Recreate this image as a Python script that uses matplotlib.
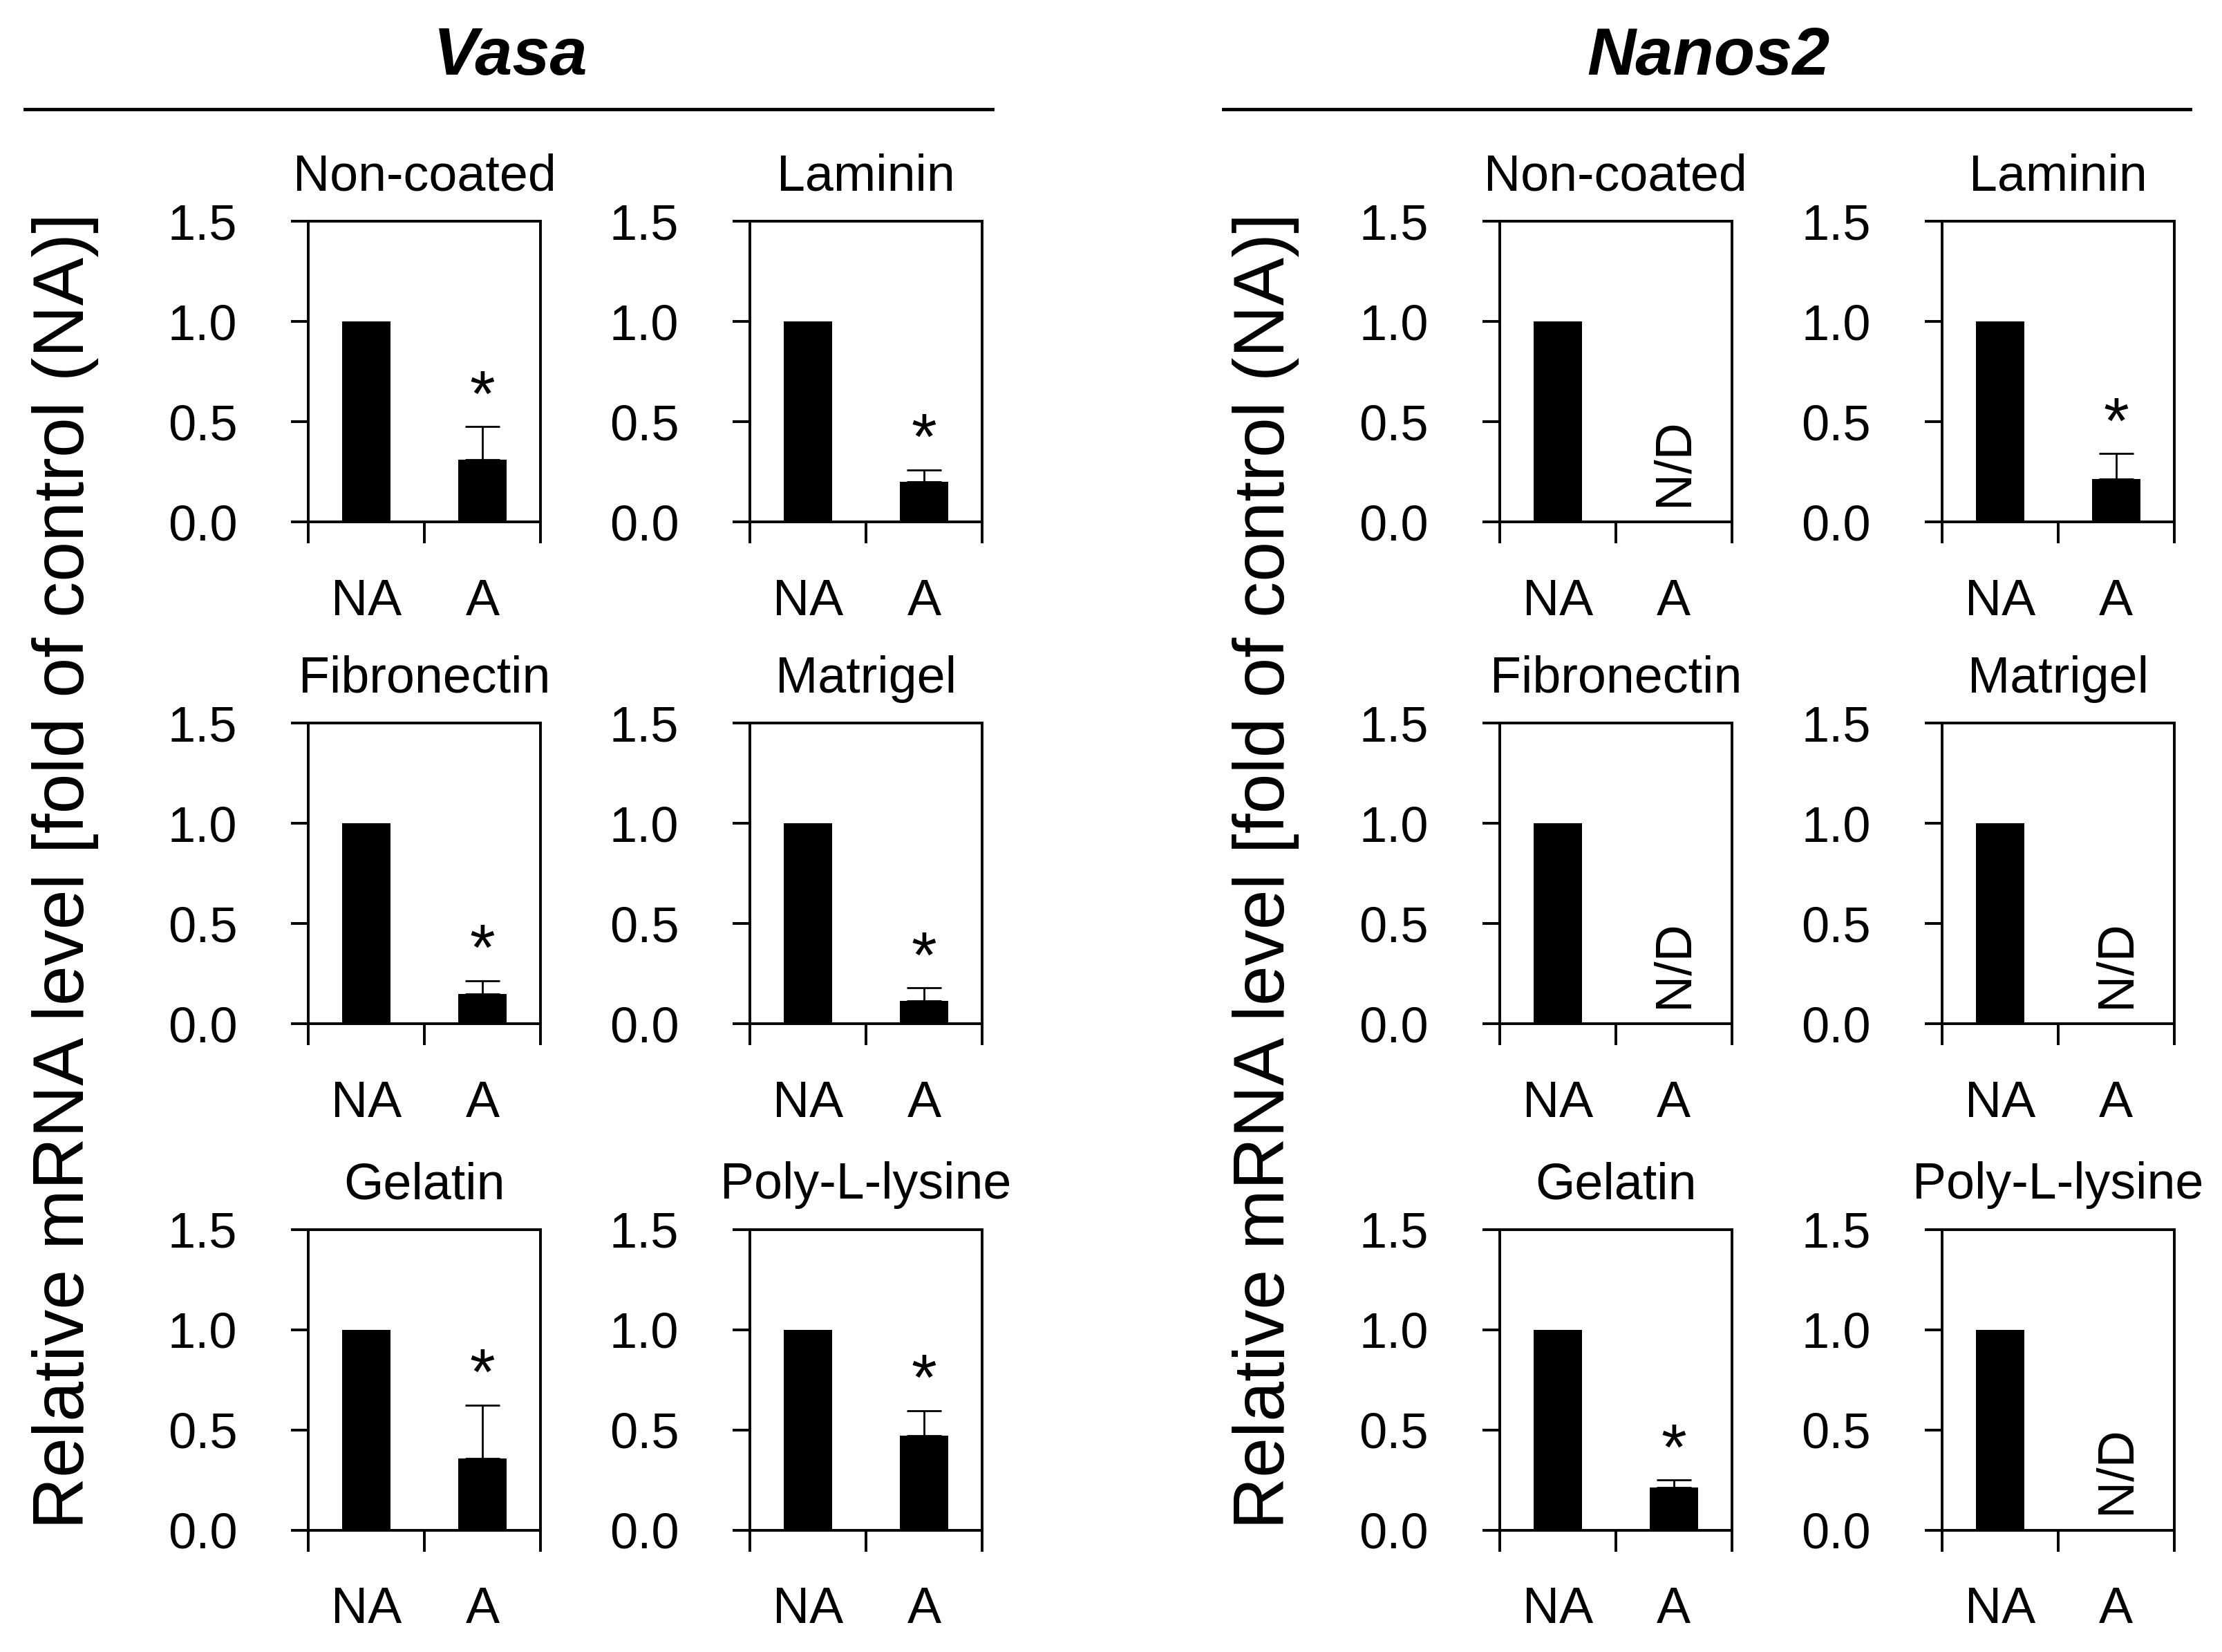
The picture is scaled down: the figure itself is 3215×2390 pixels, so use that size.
import numpy as np
import matplotlib
matplotlib.use("Agg")
import matplotlib.pyplot as plt
from matplotlib.lines import Line2D

plt.rcParams['font.family'] = ['Liberation Sans', 'DejaVu Sans']

# ---------------- data ----------------
genes = ["Vasa", "Nanos2"]
coatings = ["Non-coated", "Laminin", "Fibronectin", "Matrigel", "Gelatin", "Poly-L-lysine"]
groups = ["NA", "A"]

vasa_na = [1.0, 1.0, 1.0, 1.0, 1.0, 1.0]
vasa_a = [0.31, 0.20, 0.15, 0.115, 0.357, 0.471]
vasa_a_err = [0.165, 0.06, 0.065, 0.063, 0.266, 0.125]
vasa_sig = [True, True, True, True, True, True]

nanos_na = [1.0, 1.0, 1.0, 1.0, 1.0, 1.0]
nanos_a = [np.nan, 0.215, np.nan, np.nan, 0.213, np.nan]
nanos_a_err = [np.nan, 0.126, np.nan, np.nan, 0.036, np.nan]
nanos_sig = [False, True, False, False, True, False]

yticks = [0.0, 0.5, 1.0, 1.5]
ytick_labels = ["0.0", "0.5", "1.0", "1.5"]
ylabel = "Relative mRNA level [fold of control (NA)]"
nd_text = "N/D"

# ---------------- layout ----------------
W, H = 32.16, 23.90
fig = plt.figure(figsize=(W, H), dpi=100)

col_left = {"Vasa": [0.1387, 0.3374], "Nanos2": [0.6747, 0.8737]}
row_bottom = [0.6841, 0.3803, 0.0738]
ax_w, ax_h = 0.1045, 0.1820

LW = 2.8
FS_TICK = 52
FS_XT = 53
FS_TITLE = 53

data = {
    "Vasa": (vasa_na, vasa_a, vasa_a_err, vasa_sig),
    "Nanos2": (nanos_na, nanos_a, nanos_a_err, nanos_sig),
}

for gene in genes:
    na_vals, a_vals, a_errs, sigs = data[gene]
    for i, coat in enumerate(coatings):
        r, c = divmod(i, 2)
        ax = fig.add_axes([col_left[gene][c], row_bottom[r], ax_w, ax_h])
        x = np.arange(len(groups))
        vals = [na_vals[i], a_vals[i]]
        ax.bar(x, [0 if np.isnan(v) else v for v in vals], width=0.42,
               color="black", edgecolor="none", zorder=2)
        if not np.isnan(a_vals[i]):
            ax.errorbar([1], [a_vals[i]], yerr=[[0], [a_errs[i]]], fmt="none",
                        ecolor="black", elinewidth=2.0, capsize=18,
                        capthick=2.0, zorder=3)
        if sigs[i]:
            ax.annotate("*", xy=(1, a_vals[i] + a_errs[i]), xytext=(0, -3),
                        textcoords="offset points", ha="center", va="bottom",
                        fontsize=68)
        if np.isnan(a_vals[i]):
            ax.text(1, 0.08, nd_text, rotation=90, ha="center", va="bottom",
                    fontsize=FS_TITLE)
        ax.set_xlim(-0.5, 1.5)
        ax.set_ylim(0, 1.5)
        ax.set_yticks(yticks)
        ax.set_yticklabels(ytick_labels)
        ax.set_xticks([-0.5, 0.5, 1.5])
        ax.set_xticklabels([])
        ax.set_xticks(x, minor=True)
        ax.set_xticklabels(groups, minor=True)
        ax.tick_params(axis="y", which="major", direction="out", length=18,
                       width=LW, pad=56, labelsize=FS_TICK)
        ax.tick_params(axis="x", which="major", direction="out", length=22,
                       width=LW)
        ax.tick_params(axis="x", which="minor", length=0, pad=58,
                       labelsize=FS_XT)
        for s in ax.spines.values():
            s.set_linewidth(LW)
        ax.set_title(coat, fontsize=FS_TITLE, pad=32)

# group titles and lines
title_x = {"Vasa": 0.2296, "Nanos2": 0.7685}
line_x = {"Vasa": (0.0112, 0.4464), "Nanos2": (0.5504, 0.9853)}
ylabel_x = {"Vasa": 0.0293, "Nanos2": 0.5695}
for gene in genes:
    fig.text(title_x[gene], 0.955, gene, ha="center", va="baseline",
             fontsize=70, fontweight="bold", fontstyle="italic")
    fig.add_artist(Line2D(line_x[gene], [0.934, 0.934], color="black",
                          linewidth=3.5, transform=fig.transFigure))
    fig.text(ylabel_x[gene], 0.473, ylabel, rotation=90, ha="center",
             va="center", fontsize=75)

fig.savefig("out.png", dpi=100)
